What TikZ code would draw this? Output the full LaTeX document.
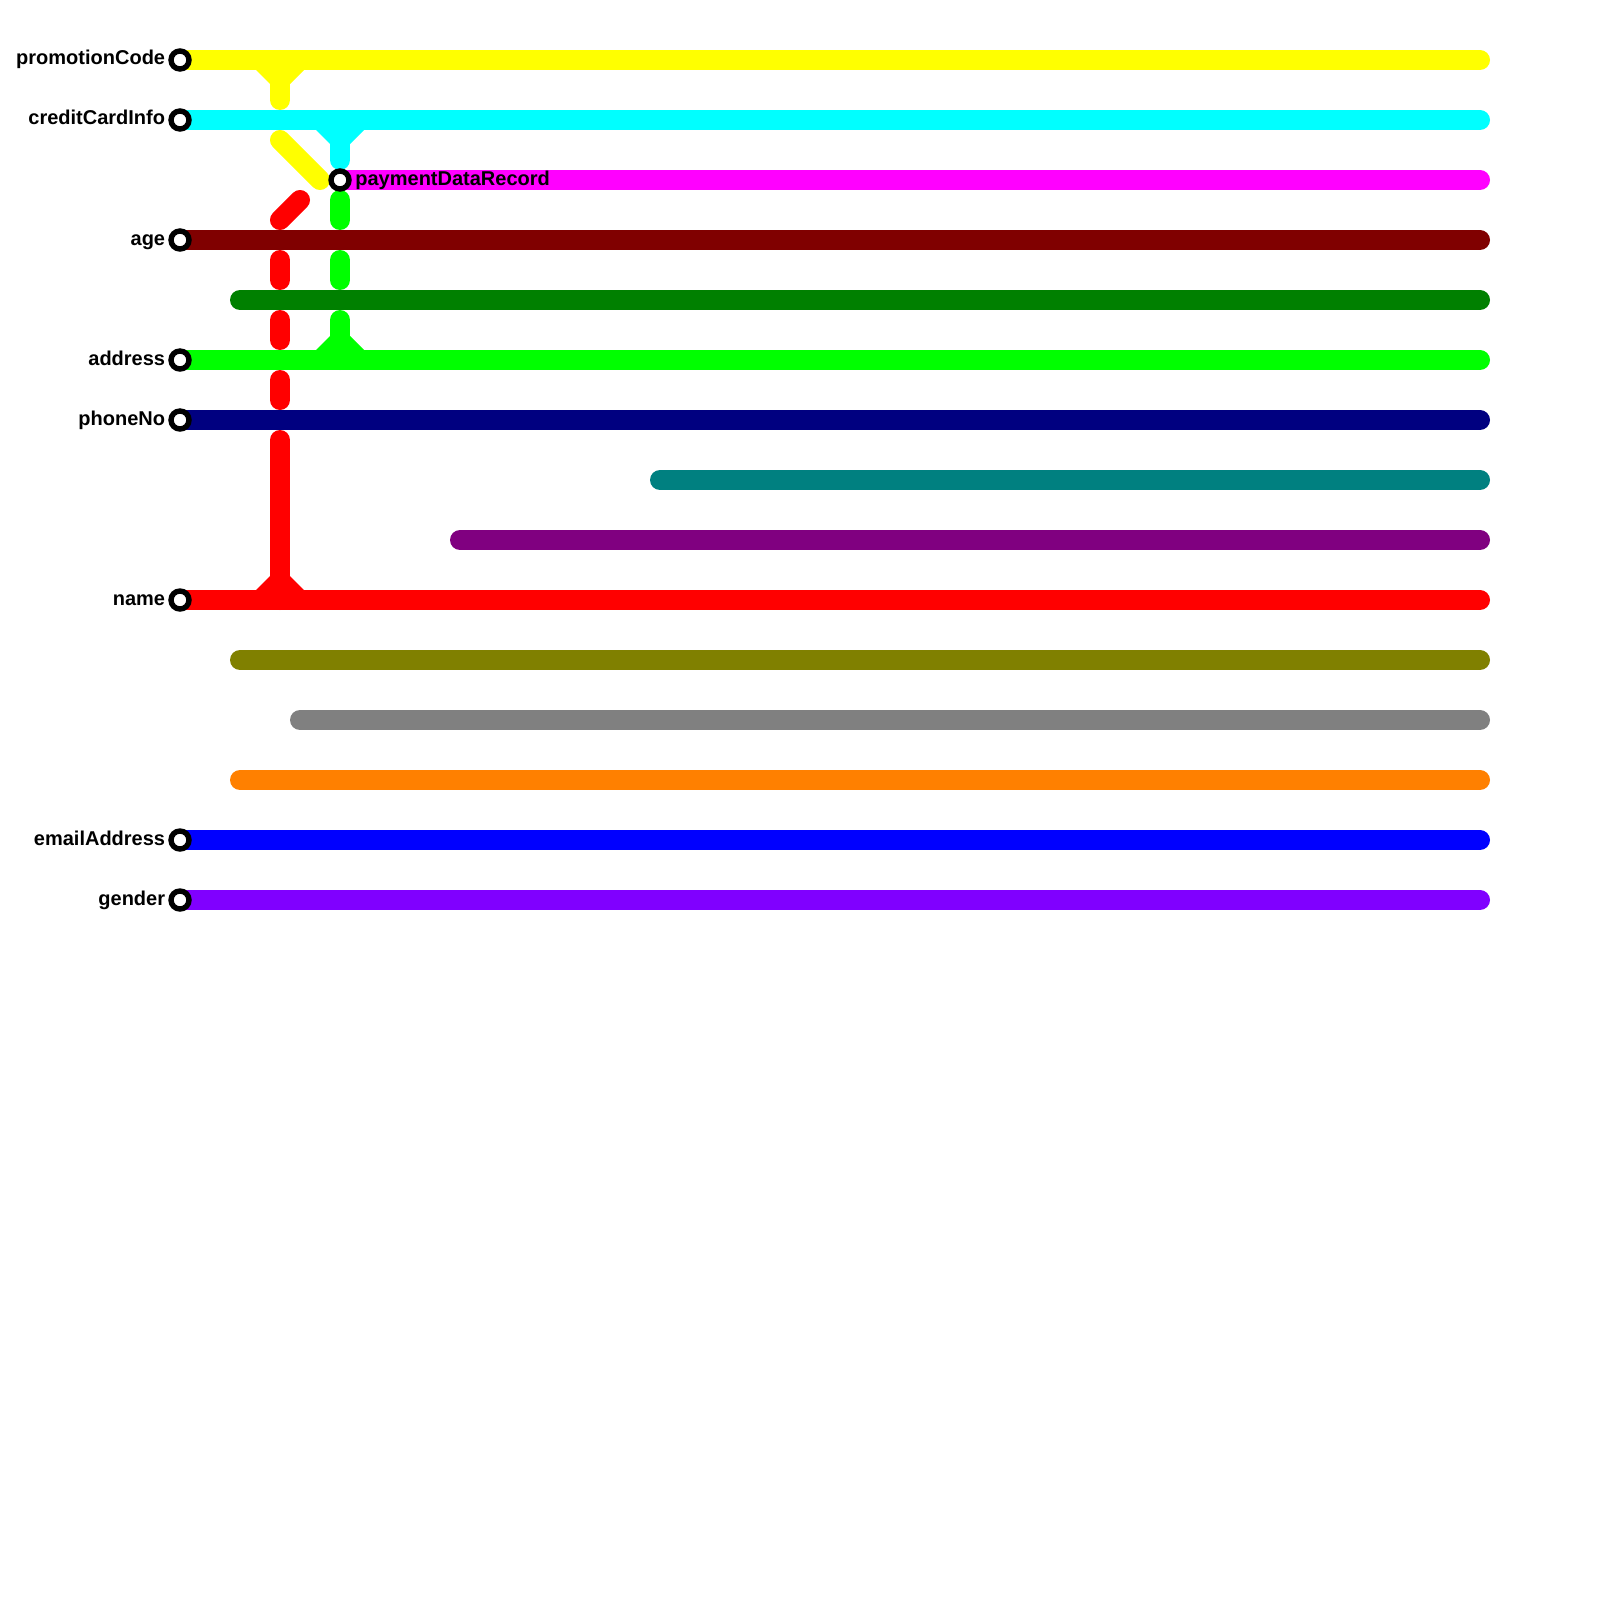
\documentclass[tikz,border=0pt]{standalone}
\usepackage{fontspec}
\setmainfont{Liberation Sans}
\definecolor{cYellow}{HTML}{FFFF00}
\definecolor{cCyan}{HTML}{00FFFF}
\definecolor{cMagenta}{HTML}{FF00FF}
\definecolor{cRed}{HTML}{FF0000}
\definecolor{cBlue}{HTML}{0000FF}
\definecolor{cMaroon}{HTML}{800000}
\definecolor{cGreen}{HTML}{008000}
\definecolor{cLime}{HTML}{00FF00}
\definecolor{cNavy}{HTML}{000080}
\definecolor{cTeal}{HTML}{008080}
\definecolor{cPurple}{HTML}{800080}
\definecolor{cOlive}{HTML}{808000}
\definecolor{cGray}{HTML}{808080}
\definecolor{cOrange}{HTML}{FF8000}
\definecolor{cViolet}{HTML}{8000FF}
\tikzset{
  railline/.style={draw=#1,line width=10pt,line cap=round,line join=round},
  station/.style={circle,draw=black,fill=white,line width=2.7pt,minimum size=9pt,inner sep=0pt},
  namelabel/.style={font=\bfseries\fontsize{10}{12}\selectfont,text=black,inner sep=0pt}
}
\newcommand{\flaredown}[3]{\fill[#3] (#1-24,#2+10) -- (#1-10,#2+24) -- (#1+10,#2+24) -- (#1+24,#2+10) -- cycle;}
\newcommand{\flareup}[3]{\fill[#3] (#1-24,#2-10) -- (#1-10,#2-24) -- (#1+10,#2-24) -- (#1+24,#2-10) -- cycle;}
\begin{document}
\begin{tikzpicture}[x=0.5pt,y=-0.5pt]
\useasboundingbox (0,0) rectangle (1600,1600);
% free ends and bend points
\coordinate (yA) at (280,60);  \coordinate (yB) at (280,100);
\coordinate (yC) at (280,140); \coordinate (yD) at (320,180);
\coordinate (cA) at (340,120); \coordinate (cB) at (340,160);
\coordinate (gA) at (340,200); \coordinate (gB) at (340,220);
\coordinate (gC) at (340,260); \coordinate (gD) at (340,280);
\coordinate (gE) at (340,320); \coordinate (gF) at (340,360);
\coordinate (rA) at (300,200); \coordinate (rB) at (280,220);
\coordinate (rC) at (280,260); \coordinate (rD) at (280,280);
\coordinate (rE) at (280,320); \coordinate (rF) at (280,340);
\coordinate (rG) at (280,380); \coordinate (rH) at (280,400);
\coordinate (rI) at (280,440); \coordinate (rJ) at (280,600);
\coordinate (sDarkGreen) at (240,300);
\coordinate (sTeal) at (660,480);
\coordinate (sPurple) at (460,540);
\coordinate (sOlive) at (240,660);
\coordinate (sGray) at (300,720);
\coordinate (sOrange) at (240,780);
\foreach \n/\yy in {promo/60,credit/120,payment/180,age/240,dkgreen/300,address/360,phone/420,teal/480,purple/540,name/600,olive/660,gray/720,orange/780,email/840,gender/900}{
  \coordinate (e\n) at (1480,\yy);
}
\path (180,60) coordinate (promoS) (180,120) coordinate (creditS) (340,180) coordinate (paymentS)
      (180,240) coordinate (ageS) (180,360) coordinate (addressS) (180,420) coordinate (phoneS)
      (180,600) coordinate (nameS) (180,840) coordinate (emailS) (180,900) coordinate (genderS);
% branches
\draw[railline=cYellow] (yA) -- (yB);
\draw[railline=cYellow] (yC) -- (yD);
\draw[railline=cCyan] (cA) -- (cB);
\draw[railline=cLime] (gA) -- (gB);
\draw[railline=cLime] (gC) -- (gD);
\draw[railline=cLime] (gE) -- (gF);
\draw[railline=cRed] (rA) -- (rB);
\draw[railline=cRed] (rC) -- (rD);
\draw[railline=cRed] (rE) -- (rF);
\draw[railline=cRed] (rG) -- (rH);
\draw[railline=cRed] (rI) -- (rJ);
\flaredown{280}{60}{cYellow}
\flaredown{340}{120}{cCyan}
\flareup{340}{360}{cLime}
\flareup{280}{600}{cRed}
% main lines
\draw[railline=cYellow] (promoS) -- (epromo);
\draw[railline=cCyan] (creditS) -- (ecredit);
\draw[railline=cMagenta] (paymentS) -- (epayment);
\draw[railline=cMaroon] (ageS) -- (eage);
\draw[railline=cGreen] (sDarkGreen) -- (edkgreen);
\draw[railline=cLime] (addressS) -- (eaddress);
\draw[railline=cNavy] (phoneS) -- (ephone);
\draw[railline=cTeal] (sTeal) -- (eteal);
\draw[railline=cPurple] (sPurple) -- (epurple);
\draw[railline=cRed] (nameS) -- (ename);
\draw[railline=cOlive] (sOlive) -- (eolive);
\draw[railline=cGray] (sGray) -- (egray);
\draw[railline=cOrange] (sOrange) -- (eorange);
\draw[railline=cBlue] (emailS) -- (eemail);
\draw[railline=cViolet] (genderS) -- (egender);
% stations and labels
\node[station] (promoN) at (promoS) {};
\node[station] (creditN) at (creditS) {};
\node[station] (paymentN) at (paymentS) {};
\node[station] (ageN) at (ageS) {};
\node[station] (addressN) at (addressS) {};
\node[station] (phoneN) at (phoneS) {};
\node[station] (nameN) at (nameS) {};
\node[station] (emailN) at (emailS) {};
\node[station] (genderN) at (genderS) {};
\node[namelabel,anchor=base east] (promoL) at (165.5,65) {promotionCode};
\node[namelabel,anchor=base east] (creditL) at (165.5,125) {creditCardInfo};
\node[namelabel,anchor=base west] (paymentL) at (355,185) {paymentDataRecord};
\node[namelabel,anchor=base east] (ageL) at (165.5,245) {age};
\node[namelabel,anchor=base east] (addressL) at (165.5,365) {address};
\node[namelabel,anchor=base east] (phoneL) at (165.5,425) {phoneNo};
\node[namelabel,anchor=base east] (nameL) at (165.5,605) {name};
\node[namelabel,anchor=base east] (emailL) at (165.5,845) {emailAddress};
\node[namelabel,anchor=base east] (genderL) at (165.5,905) {gender};
\end{tikzpicture}
\end{document}
